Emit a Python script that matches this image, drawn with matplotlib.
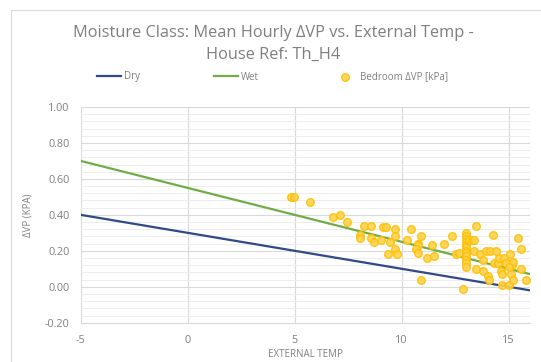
import matplotlib
matplotlib.use("Agg")
import matplotlib.pyplot as plt
import numpy as np
from matplotlib.lines import Line2D
from matplotlib.patches import Rectangle
from matplotlib.ticker import MultipleLocator, FormatStrFormatter

plt.rcParams['font.family'] = ['Open Sans', 'DejaVu Sans']

# Trend lines (Dry / Wet)
line_x = [-5, 16]
dry_y = [0.40, -0.02]
wet_y = [0.70, 0.07]

# Bedroom ΔVP scatter
temp = [4.83, 4.96, 5.71, 6.78, 7.10, 7.47, 8.26, 8.58, 8.04, 8.04, 8.58, 8.71,
        9.03, 9.13, 9.29, 9.45, 9.36, 9.69, 9.69, 9.69, 9.78, 10.24, 10.46, 10.77,
        10.77, 10.69, 10.78, 10.91, 10.91, 11.19, 11.49, 11.44, 11.98, 12.34, 12.55,
        12.69, 12.87,
        13.0, 13.0, 13.0, 13.0, 13.0, 13.0, 13.0, 13.0, 13.0, 13.0, 13.0, 13.0,
        13.14, 13.27, 13.36, 13.47, 13.39, 13.48, 13.66, 13.80, 13.78, 13.95, 14.02,
        14.08, 14.12, 14.26, 14.33, 14.42, 14.49, 14.56, 14.64, 14.67, 14.67, 14.79,
        14.89, 15.00, 15.07, 15.11, 15.15, 15.22, 15.22, 15.45, 15.58, 15.58, 15.83,
        15.03]
dvp = [0.50, 0.50, 0.47, 0.39, 0.40, 0.36, 0.34, 0.34, 0.29, 0.27, 0.27, 0.25,
       0.26, 0.33, 0.33, 0.25, 0.18, 0.32, 0.28, 0.21, 0.18, 0.26, 0.32, 0.24,
       0.23, 0.21, 0.19, 0.28, 0.04, 0.16, 0.17, 0.23, 0.24, 0.28, 0.18,
       0.19, -0.01,
       0.30, 0.28, 0.265, 0.25, 0.235, 0.22, 0.20, 0.185, 0.17, 0.15, 0.13, 0.11,
       0.26, 0.26, 0.26, 0.34, 0.20, 0.10, 0.18, 0.15, 0.09, 0.20, 0.06,
       0.04, 0.20, 0.29, 0.13, 0.20, 0.13, 0.16, 0.09, 0.07, 0.01, 0.16,
       0.13, 0.01, 0.18, 0.07, 0.12, 0.14, 0.04, 0.27, 0.21, 0.10, 0.04,
       0.11]

W, H = 541, 362
fig = plt.figure(figsize=(W / 100, H / 100), dpi=100)
fig.patch.set_facecolor('white')

# chart border
fig.add_artist(Rectangle((11 / W, -0.1), 1.2, 1 - 10 / H + 0.1, transform=fig.transFigure,
                         fill=False, edgecolor='#D9D9D9', linewidth=0.8))

ax = fig.add_axes([80.7 / W, 1 - 322.7 / H, (530 - 80.7) / W, (322.7 - 107) / H])
ax.set_xlim(-5, 16)
ax.set_ylim(-0.2, 1.0)

ax.xaxis.set_major_locator(MultipleLocator(5))
ax.yaxis.set_major_locator(MultipleLocator(0.2))
ax.yaxis.set_minor_locator(MultipleLocator(0.04))
ax.yaxis.set_major_formatter(FormatStrFormatter('%.2f'))
ax.xaxis.set_major_formatter(FormatStrFormatter('%d'))

ax.grid(which='major', axis='both', color='#D9D9D9', linewidth=0.8)
ax.grid(which='minor', axis='y', color='#EDEDED', linewidth=0.7)
ax.set_axisbelow(True)
for s in ['top', 'right', 'left']:
    ax.spines[s].set_visible(False)
ax.spines['bottom'].set_color('#D9D9D9')
ax.tick_params(which='both', length=0, colors='#7F7F7F', labelsize=7.8)
ax.tick_params(axis='y', pad=8)
ax.tick_params(axis='x', pad=9)

ax.plot(line_x, dry_y, color='#2F4A86', linewidth=1.6, label='Dry', zorder=3)
ax.plot(line_x, wet_y, color='#70AD47', linewidth=1.6, label='Wet', zorder=3)
ax.scatter(temp, dvp, s=30, color='#FFD24D', edgecolors='#FFC000', linewidths=1.0,
           alpha=0.9, label='Bedroom ΔVP [kPa]', zorder=4)

ax.set_xlabel('EXTERNAL TEMP', color='#7F7F7F', fontsize=7, labelpad=2)
ax.set_ylabel('ΔVP (KPA)', color='#7F7F7F', fontsize=7, labelpad=8)

fig.text(273 / W, 1 - 33 / H, 'Moisture Class: Mean Hourly ΔVP vs. External Temp -',
         ha='center', va='center', fontsize=11.8, color='#7F7F7F')
fig.text(273 / W, 1 - 55 / H, 'House Ref: Th_H4',
         ha='center', va='center', fontsize=11.8, color='#7F7F7F')

leg = fig.legend(loc='center left', bbox_to_anchor=(88 / W, 1 - 77 / H), ncol=3,
                 frameon=False, fontsize=7, handlelength=2.5, handletextpad=0.3,
                 columnspacing=7.6, labelcolor='#7F7F7F')

fig.savefig('out.png', dpi=100, facecolor='white')
